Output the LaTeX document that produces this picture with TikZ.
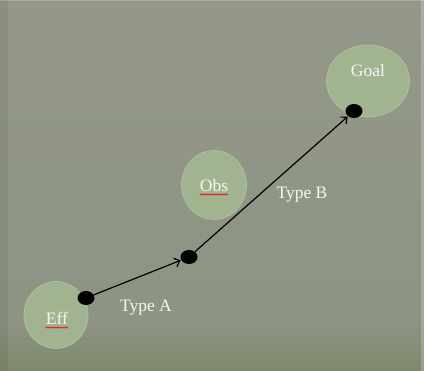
\documentclass[tikz,border=0pt]{standalone}
\usepackage{fontspec}
\setmainfont{Liberation Serif}
\usetikzlibrary{shapes.geometric,arrows.meta,decorations.pathmorphing}
\definecolor{bgtop}{HTML}{949889}
\definecolor{bgmid}{HTML}{8D9483}
\definecolor{bgbot}{HTML}{7E8A6C}
\definecolor{blobfill}{HTML}{A2B48F}
\definecolor{blobedge}{HTML}{B4C3A4}
\definecolor{txt}{HTML}{F6F6F0}
\definecolor{squig}{HTML}{E0202A}
\tikzset{
  blob/.style={ellipse, fill=blobfill, draw=blobedge, line width=0.6pt, inner sep=0pt},
  dot/.style={ellipse, fill=black, draw=none, minimum width=17pt, minimum height=14pt, inner sep=0pt},
  lbl/.style={text=txt, inner sep=0pt, anchor=base, font=\fontsize{17.5}{20}\selectfont},
  arr/.style={line width=1.2pt, -{Straight Barb[length=5pt,width=9pt,line width=1.2pt]}, shorten >=0.5pt},
  redline/.style={squig, line width=0.8pt, decorate, decoration={snake, amplitude=0.5pt, segment length=2.2pt}}
}
\begin{document}
\begin{tikzpicture}[x=1pt,y=-1pt]
\useasboundingbox (0,0) rectangle (424,371);
% background
\shade[top color=bgtop, bottom color=bgmid, draw=none] (0,0) rectangle (424,320);
\shade[top color=bgmid, bottom color=bgbot, draw=none] (0,320) rectangle (424,371);
\fill[black, opacity=0.06] (0,0) rectangle (8,371);
\fill[white, opacity=0.2] (421,0) rectangle (424,371);
\fill[white, opacity=0.2] (0,0) rectangle (424,1.5);
% blobs
\node[blob, minimum width=64pt, minimum height=67pt] (eff) at (56,315) {};
\node[blob, minimum width=65pt, minimum height=69pt] (obs) at (214,185) {};
\node[blob, minimum width=83pt, minimum height=72pt] (goal) at (368,81) {};
% labels
\node[lbl] (effl) at (57,325) {Eff};
\node[lbl] (obsl) at (214,192) {Obs};
\node[lbl] (goall) at (368,77) {Goal};
\node[lbl] (ta) at (146,312) {Type A};
\node[lbl] (tb) at (302,199) {Type B};
\draw[redline] ([yshift=-2.5pt]effl.base west) -- ([yshift=-2.5pt]effl.base east);
\draw[redline] ([yshift=-2.5pt]obsl.base west) -- ([yshift=-2.5pt]obsl.base east);
% dots
\node[dot] (d1) at (86,298) {};
\node[dot] (d2) at (189,257) {};
\node[dot] (d3) at (354,111) {};
% connectors
\draw[arr] (d1) -- (d2);
\draw[arr] (d2) -- (d3);
\end{tikzpicture}
\end{document}
